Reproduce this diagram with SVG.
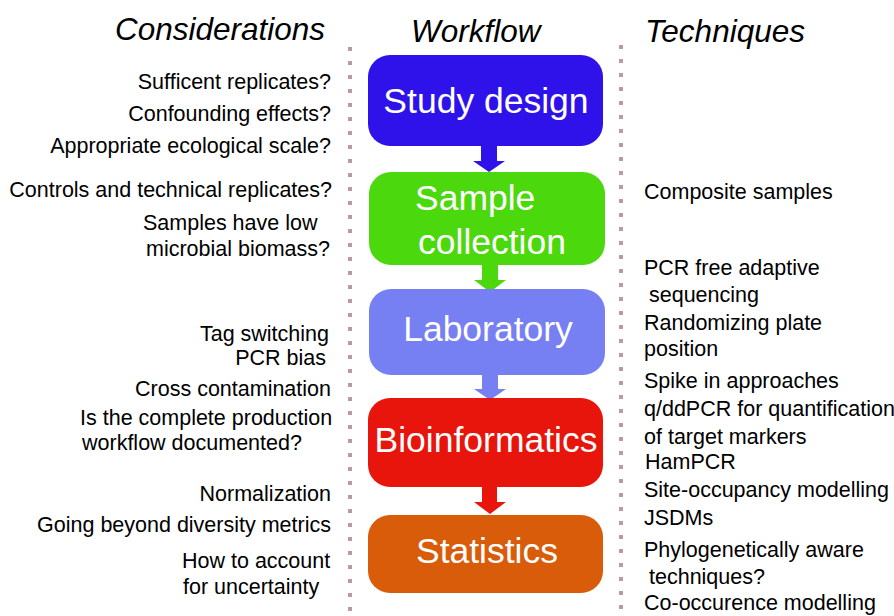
<svg xmlns="http://www.w3.org/2000/svg" width="894" height="616" viewBox="0 0 894 616">
<style>
text{font-family:"Liberation Sans",Arial,sans-serif;fill:#000}
.h{font-size:31.5px;font-style:italic}
.c{font-size:21.5px;text-anchor:end}
.cl{font-size:21.5px}
.t{font-size:21.5px}
.box text{font-size:35.5px;fill:#fff}
.dots{stroke:#b89c9e;stroke-width:4;stroke-dasharray:4 10;fill:none}
</style>
<rect width="894" height="616" fill="#fff"/>
<g id="separators">
<line class="dots" x1="350" y1="47" x2="350" y2="616"/>
<line class="dots" x1="621" y1="45" x2="621" y2="616"/>
</g>
<g id="headings">
<text class="h" x="115" y="40">Considerations</text>
<text class="h" x="411" y="42">Workflow</text>
<text class="h" x="645" y="42">Techniques</text>
</g>
<g id="connectors">
<polygon fill="#2f12ea" points="481,145 497,145 497,161 505,161 489,172 473,161 481,161"/>
<polygon fill="#4bd80d" points="482,264 498,264 498,280 506,280 490,292 474,280 482,280"/>
<polygon fill="#7680f3" points="482,374 498,374 498,389 506,389 490,400 474,389 482,389"/>
<polygon fill="#e8150c" points="482,486 497,486 497,502 506,502 490,514 474,502 482,502"/>
</g>
<g id="study-design" class="box">
<rect x="368" y="55" width="235" height="91" rx="22" fill="#2f12ea"/>
<text x="486" y="113" text-anchor="middle">Study design</text>
</g>
<g id="sample-collection" class="box">
<rect x="369" y="172" width="236" height="93" rx="22" fill="#4bd80d"/>
<text x="415" y="210">Sample</text>
<text x="418" y="254">collection</text>
</g>
<g id="laboratory" class="box">
<rect x="369" y="289" width="236" height="86" rx="22" fill="#7680f3"/>
<text x="488" y="341" text-anchor="middle">Laboratory</text>
</g>
<g id="bioinformatics" class="box">
<rect x="368" y="398" width="235" height="89" rx="22" fill="#e8150c"/>
<text x="486" y="452" text-anchor="middle">Bioinformatics</text>
</g>
<g id="statistics" class="box">
<rect x="368" y="515" width="235" height="78" rx="22" fill="#d95c0a"/>
<text x="487" y="563" text-anchor="middle">Statistics</text>
</g>
<g id="considerations">
<text class="c" x="331" y="89">Sufficent replicates?</text>
<text class="c" x="331" y="121">Confounding effects?</text>
<text class="c" x="331" y="153">Appropriate ecological scale?</text>
<text class="c" x="332" y="197">Controls and technical replicates?</text>
<text class="cl" x="143" y="230">Samples have low</text>
<text class="cl" x="146" y="256">microbial biomass?</text>
<text class="c" x="329" y="341">Tag switching</text>
<text class="c" x="326" y="365">PCR bias</text>
<text class="c" x="331" y="396">Cross contamination</text>
<text class="cl" x="80" y="425">Is the complete production</text>
<text class="cl" x="82" y="450">workflow documented?</text>
<text class="c" x="331" y="501">Normalization</text>
<text class="c" x="331" y="532">Going beyond diversity metrics</text>
<text class="cl" x="182" y="568">How to account</text>
<text class="cl" x="183" y="594">for uncertainty</text>
</g>
<g id="techniques">
<text class="t" x="644" y="199">Composite samples</text>
<text class="t" x="644" y="275">PCR free adaptive</text>
<text class="t" x="649" y="302">sequencing</text>
<text class="t" x="644" y="330">Randomizing plate</text>
<text class="t" x="644" y="356">position</text>
<text class="t" x="644" y="388">Spike in approaches</text>
<text class="t" x="644" y="416">q/ddPCR for quantification</text>
<text class="t" x="644" y="444">of target markers</text>
<text class="t" x="645" y="469">HamPCR</text>
<text class="t" x="644" y="497">Site-occupancy modelling</text>
<text class="t" x="644" y="525">JSDMs</text>
<text class="t" x="644" y="557">Phylogenetically aware</text>
<text class="t" x="649" y="584">techniques?</text>
<text class="t" x="644" y="610">Co-occurence modelling</text>
</g>
</svg>
